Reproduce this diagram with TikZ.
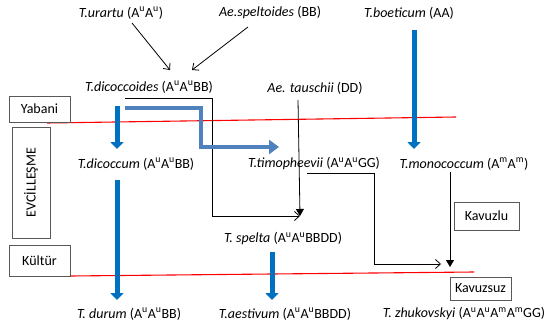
\documentclass[tikz,border=0pt]{standalone}
\usepackage{fontspec}
\setmainfont{Carlito}
\usetikzlibrary{arrows.meta}
\newcommand{\upu}{\textsuperscript{u}}
\newcommand{\upm}{\textsuperscript{m}}
\definecolor{thickblue}{HTML}{0070C0}
\definecolor{bentblue}{HTML}{4F81BD}
\definecolor{boxgray}{HTML}{595959}
\definecolor{redline}{HTML}{FF0000}
\begin{document}
\begin{tikzpicture}[x=1pt,y=-1pt,
  lbl/.style={inner sep=0pt,font=\fontsize{14}{16}\selectfont},
  labelbox/.style={draw=boxgray,line width=0.8pt,inner sep=0pt,font=\fontsize{14}{16}\selectfont},
  thickarrow/.style={draw=thickblue,line width=5pt,-{Triangle[width=13pt,length=7pt]}},
  bentarrow/.style={draw=bentblue,line width=4.8pt,line join=miter,-{Triangle[width=14pt,length=10pt]}},
  thinopen/.style={draw=black,line width=0.8pt,-{Straight Barb[length=5pt,width=9pt]}},
  thinfill/.style={draw=black,line width=0.8pt,-{Triangle[length=7pt,width=8pt]}},
  thinline/.style={draw=black,line width=0.8pt},
  redrule/.style={draw=redline,line width=1.1pt}]
\useasboundingbox (0,0) rectangle (548,329);
\fill[white] (0,0) rectangle (548,329);

% red rules
\coordinate (r1a) at (47,123); \coordinate (r1b) at (456,117);
\coordinate (r2a) at (70,276); \coordinate (r2b) at (474,272);
\draw[redrule] (r1a) -- (r1b);
\draw[redrule] (r2a) -- (r2b);

% labels
\node[lbl] (urartu) at (121,13) {\textit{T.urartu} (A\upu A\upu)};
\node[lbl] (speltoides) at (270,13) {\textit{Ae.speltoides} (BB)};
\node[lbl] (boeticum) at (409,13) {\textit{T.boeticum} (AA)};
\node[lbl] (dicoccoides) at (149,87) {\textit{T.dicoccoides} (A\upu A\upu BB)};
\node[lbl] (tauschii) at (315,88) {\textit{Ae. tauschii} (DD)};
\node[lbl] (dicoccum) at (136,164) {\textit{T.dicoccum} (A\upu A\upu BB)};
\node[lbl] (timopheevii) at (314,164) {\textit{T.timopheevii} (A\upu A\upu GG)};
\node[lbl] (monococcum) at (464,164) {\textit{T.monococcum} (A\upm A\upm)};
\node[lbl] (spelta) at (283,239) {\textit{T. spelta} (A\upu A\upu BBDD)};
\node[lbl] (durum) at (129,314) {\textit{T. durum} (A\upu A\upu BB)};
\node[lbl] (aestivum) at (285,314) {\textit{T.aestivum} (A\upu A\upu BBDD)};
\node[lbl] (zhukovskyi) at (464,314) {\textit{T. zhukovskyi} (A\upu A\upu A\upm A\upm GG)};

% side boxes
\node[labelbox,minimum width=61pt,minimum height=26pt] (yabani) at (39.5,109) {Yabani};
\node[labelbox,minimum width=38pt,minimum height=111pt] (evcil) at (31,182.5) {};
\node[lbl,rotate=90] (evciltext) at (evcil.center) {EVCİLLEŞME};
\node[labelbox,minimum width=61pt,minimum height=31pt] (kultur) at (39.5,260.5) {Kültür};
\node[labelbox,minimum width=65pt,minimum height=28pt] (kavuzlu) at (486.5,216) {Kavuzlu};
\node[labelbox,minimum width=61pt,minimum height=23pt] (kavuzsuz) at (480.5,288.5) {Kavuzsuz};

% thin black arrows from wild progenitors
\coordinate (ua) at (132,23); \coordinate (ub) at (170,70);
\coordinate (sa) at (248,27); \coordinate (sb) at (192,70);
\draw[thinopen] (ua) -- (ub);
\draw[thinopen] (sa) -- (sb);

% bracket from dicoccoides to spelta
\coordinate (da) at (125,98); \coordinate (db) at (212,98);
\coordinate (dc) at (212,216); \coordinate (spin) at (300,216);
\draw[thinopen] (da) -- (db) -- (dc) -- (spin);
\coordinate (ta) at (298,100);
\draw[thinfill] (ta) -- (spin);

% timopheevii to zhukovskyi
\coordinate (tia) at (307,173); \coordinate (tib) at (374,173);
\coordinate (tic) at (374,264); \coordinate (tid) at (441,264);
\draw[thinopen] (tia) -- (tib) -- (tic) -- (tid);
\coordinate (ma) at (450,172); \coordinate (mb) at (450,267);
\draw[thinfill] (ma) -- (mb);

% thick blue arrows
\coordinate (ba) at (414,30); \coordinate (bb) at (414,149);
\draw[thickarrow] (ba) -- (bb);
\coordinate (dca) at (117,106); \coordinate (dcb) at (117,149);
\draw[thickarrow] (dca) -- (dcb);
\coordinate (dua) at (117,180); \coordinate (dub) at (117,300);
\draw[thickarrow] (dua) -- (dub);
\coordinate (aea) at (272,252); \coordinate (aeb) at (272,300);
\draw[thickarrow] (aea) -- (aeb);

% bent arrow to timopheevii
\coordinate (bea) at (125,108); \coordinate (beb) at (201,108);
\coordinate (bec) at (201,147); \coordinate (bed) at (279,147);
\draw[bentarrow] (bea) -- (beb) -- (bec) -- (bed);
\end{tikzpicture}
\end{document}
